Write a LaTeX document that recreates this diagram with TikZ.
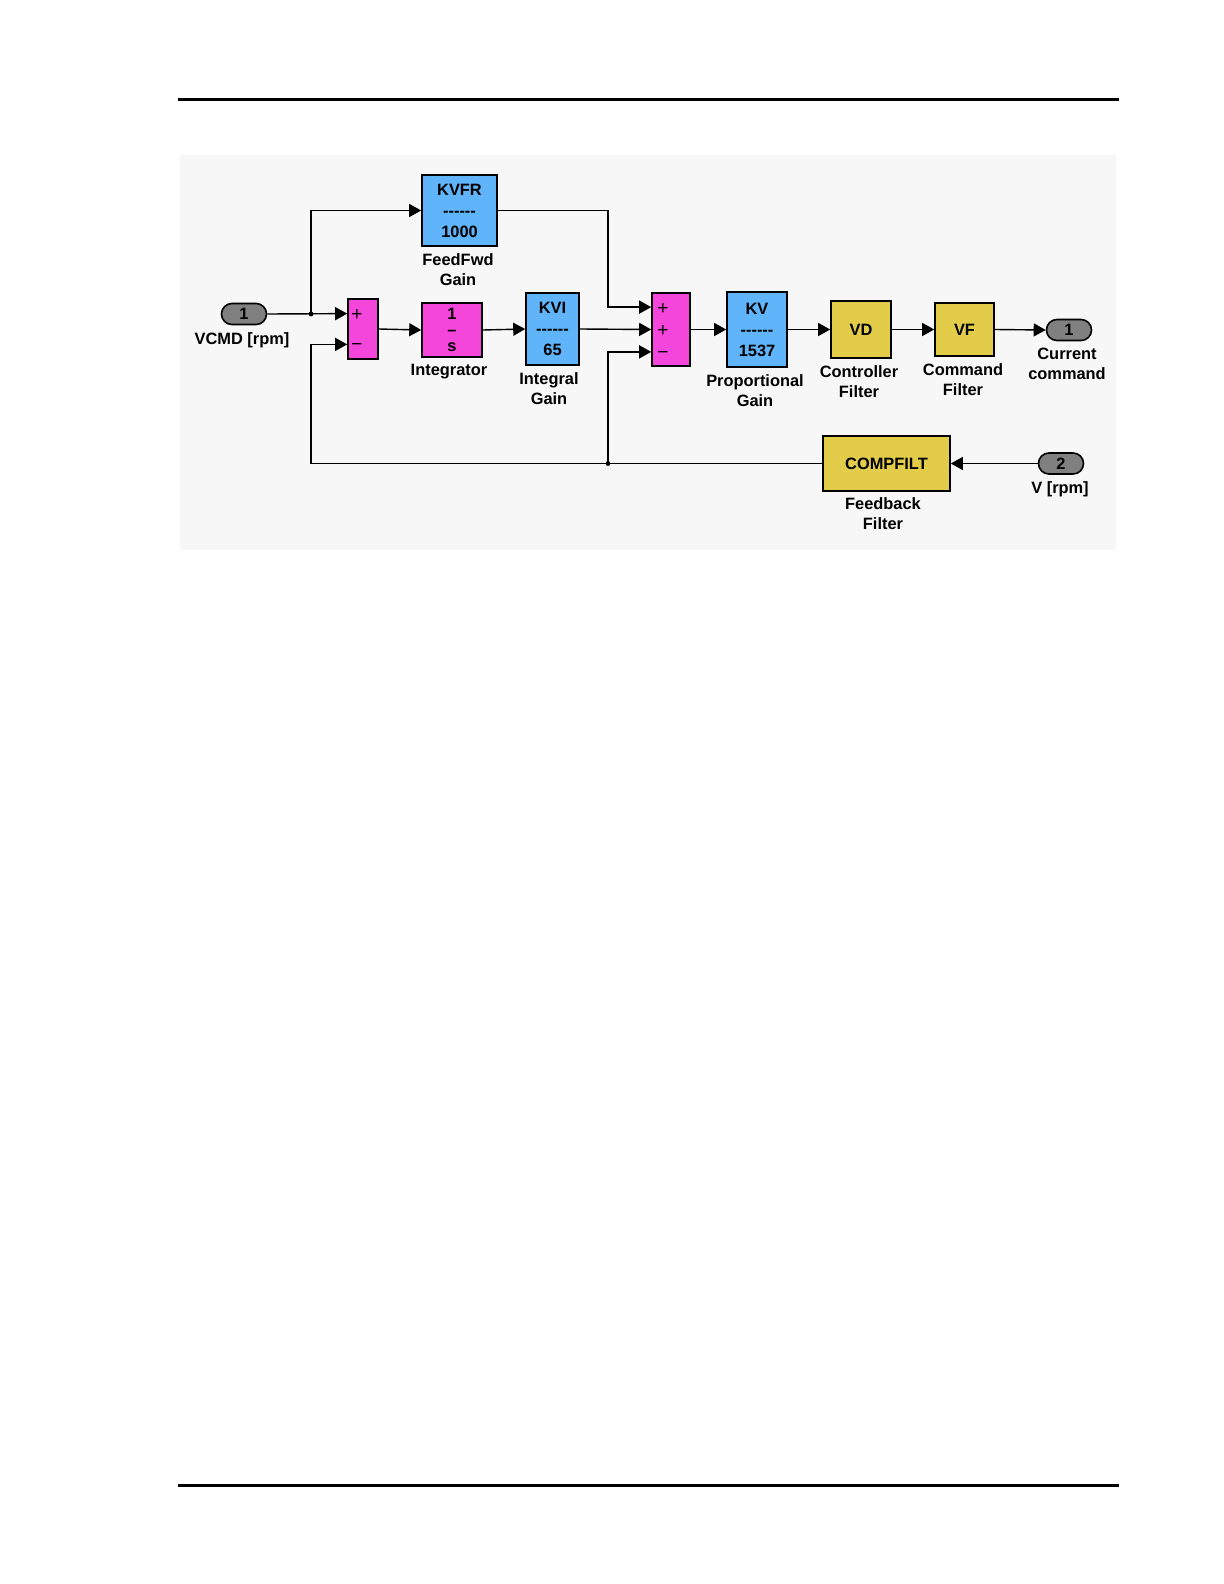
\documentclass[tikz,border=0pt]{standalone}
\usepackage{fontspec}
\setmainfont{Liberation Sans}
\usetikzlibrary{arrows.meta,calc}
\definecolor{gainblue}{RGB}{95,180,250}
\definecolor{summag}{RGB}{245,70,220}
\definecolor{filtyel}{RGB}{226,204,74}
\definecolor{portgray}{RGB}{128,128,128}
\definecolor{panelgray}{RGB}{247,247,247}
\newcommand{\gaindash}{-{}-{}-{}-{}-{}-}
\tikzset{
  blk/.style={draw, line width=0.8pt, inner sep=0pt, align=center, font=\bfseries\fontsize{8.2}{10.5}\selectfont},
  gainblk/.style={blk, fill=gainblue},
  sumblk/.style={blk, fill=summag},
  filtblk/.style={blk, fill=filtyel},
  port/.style={draw, line width=0.8pt, fill=portgray, rounded corners=5.2pt, minimum width=22.5pt, minimum height=10.5pt, inner sep=0pt, font=\bfseries\fontsize{8.2}{9}\selectfont},
  lbl/.style={align=center, inner sep=0pt, font=\bfseries\fontsize{8.2}{10}\selectfont},
  sgn/.style={inner sep=0pt, font=\fontsize{9.5}{9.5}\selectfont},
  sig/.style={line width=0.7pt, -{Triangle[length=6pt,width=6.5pt]}},
  wire/.style={line width=0.7pt},
}
\begin{document}
\begin{tikzpicture}[x=0.5pt,y=-0.5pt]
  \fill[white] (0,0) rectangle (1224,1584);
  \fill[panelgray] (180,155) rectangle (1116,550);
  \draw[line width=1.5pt] (178,100) -- (1119,100);
  \draw[line width=1.5pt] (178,1485) -- (1119,1485);

  \node[port] (vcmd) at (244,314) {1};
  \node[lbl] (vcmdlbl) at (242,340) {VCMD [rpm]};
  \node[sumblk, minimum width=15pt, minimum height=30pt] (sumA) at (363,329) {};
  \node[sgn] (sAplus) at (357,315) {+};
  \node[sgn] (sAminus) at (357,347) {−};
  \node[gainblk, minimum width=37.5pt, minimum height=35.5pt] (kvfr) at (459.5,210.5) {KVFR\\\gaindash\\1000};
  \node[lbl] (kvfrlbl) at (458,270) {FeedFwd\\Gain};
  \node[sumblk, minimum width=30pt, minimum height=27pt, font=\bfseries\fontsize{8.2}{8}\selectfont] (integ) at (452,330) {1\\\textendash\\s};
  \node[lbl] (integlbl) at (449,372) {Integrator};
  \node[gainblk, minimum width=26.5pt, minimum height=36pt] (kvi) at (552.5,329) {KVI\\\gaindash\\65};
  \node[lbl] (kvilbl) at (549,389) {Integral\\Gain};
  \node[sumblk, minimum width=19pt, minimum height=36.5pt] (sumB) at (671,329.5) {};
  \node[sgn] (sBplusA) at (663,309) {+};
  \node[sgn] (sBplusB) at (663,331) {+};
  \node[sgn] (sBminus) at (663,355) {−};
  \node[gainblk, minimum width=30pt, minimum height=37.5pt] (kv) at (757,329.5) {KV\\\gaindash\\1537};
  \node[lbl] (kvlbl) at (755,391) {Proportional\\Gain};
  \node[filtblk, minimum width=30pt, minimum height=28.5pt] (vd) at (861,329.5) {VD};
  \node[lbl] (vdlbl) at (859,382) {Controller\\Filter};
  \node[filtblk, minimum width=29.5pt, minimum height=26.5pt] (vf) at (964.5,329.5) {VF};
  \node[lbl] (vflbl) at (963,380) {Command\\Filter};
  \node[port] (curr) at (1069,330) {1};
  \node[lbl] (currlbl) at (1067,364) {Current\\command};
  \node[filtblk, minimum width=63.5pt, minimum height=27.5pt] (comp) at (886.5,463.5) {COMPFILT};
  \node[lbl] (complbl) at (883,514) {Feedback\\Filter};
  \node[port] (vrpm) at (1061,463.5) {2};
  \node[lbl] (vrpmlbl) at (1060,489) {V [rpm]};

  \coordinate (sA1) at ($(sumA.north west)!0.25!(sumA.south west)$);
  \coordinate (sA2) at ($(sumA.north west)!0.75!(sumA.south west)$);
  \coordinate (sB1) at ($(sumB.north west)!0.2!(sumB.south west)$);
  \coordinate (sB2) at ($(sumB.north west)!0.5!(sumB.south west)$);
  \coordinate (sB3) at ($(sumB.north west)!0.8!(sumB.south west)$);
  \coordinate (brA) at (311,314);
  \coordinate (brB) at (608,463.5);

  \draw[sig] (vcmd.east) -- (sA1);
  \draw[sig] (brA) |- (kvfr.west);
  \fill (brA) circle[radius=1.2pt];
  \draw[sig] (sumA.east) -- (integ.west);
  \draw[sig] (integ.east) -- (kvi.west);
  \draw[sig] (kvi.east) -- (sB2);
  \draw[sig] (kvfr.east) -- (kvfr.east -| brB) -- (brB |- sB1) -- (sB1);
  \draw[sig] (sumB.east) -- (kv.west);
  \draw[sig] (kv.east) -- (vd.west);
  \draw[sig] (vd.east) -- (vf.west);
  \draw[sig] (vf.east) -- (curr.west);
  \draw[sig] (vrpm.west) -- (comp.east);
  \draw[sig] (comp.west) -| (brA |- sA2) -- (sA2);
  \draw[sig] (brB) -- (brB |- sB3) -- (sB3);
  \fill (brB) circle[radius=1.2pt];
\end{tikzpicture}
\end{document}
